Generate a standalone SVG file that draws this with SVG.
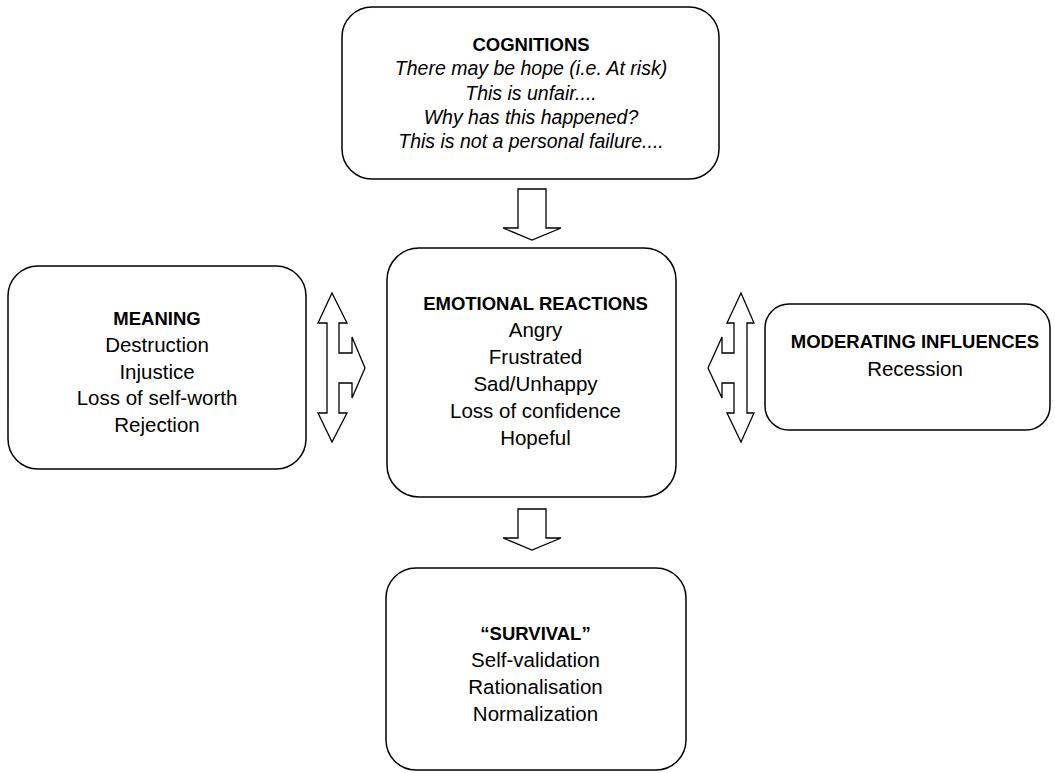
<svg xmlns="http://www.w3.org/2000/svg" width="1055" height="773" viewBox="0 0 1055 773">
<style>
.box{fill:#fff;stroke:#000;stroke-width:1.5}
.arr{fill:#fff;stroke:#000;stroke-width:1.3;stroke-linejoin:miter}
text{font-family:"Liberation Sans",Arial,sans-serif;font-size:20.5px;text-anchor:middle;fill:#000}
.b{font-weight:bold;font-size:18.5px}
.i{font-style:italic;font-size:19.5px}
</style>
<rect width="1055" height="773" fill="#fff"/>
<g id="cognitions">
<rect class="box" x="342" y="7" width="377" height="172" rx="30"/>
<text class="b" x="531" y="51">COGNITIONS</text>
<text class="i" x="531" y="75">There may be hope (i.e. At risk)</text>
<text class="i" x="531" y="99.5">This is unfair....</text>
<text class="i" x="531" y="124">Why has this happened?</text>
<text class="i" x="531" y="148">This is not a personal failure....</text>
</g>
<g id="emotional">
<rect class="box" x="387" y="248" width="289" height="249" rx="32"/>
<text class="b" x="535.5" y="310">EMOTIONAL REACTIONS</text>
<text x="535.5" y="337">Angry</text>
<text x="535.5" y="364">Frustrated</text>
<text x="535.5" y="391">Sad/Unhappy</text>
<text x="535.5" y="418">Loss of confidence</text>
<text x="535.5" y="445">Hopeful</text>
</g>
<g id="meaning">
<rect class="box" x="8" y="266" width="298" height="203" rx="30"/>
<text class="b" x="157" y="325">MEANING</text>
<text x="157" y="352">Destruction</text>
<text x="157" y="378.5">Injustice</text>
<text x="157" y="405">Loss of self-worth</text>
<text x="157" y="432">Rejection</text>
</g>
<g id="moderating">
<rect class="box" x="765" y="304" width="285" height="126" rx="24"/>
<text class="b" x="915" y="348">MODERATING INFLUENCES</text>
<text x="915" y="376">Recession</text>
</g>
<g id="survival">
<rect class="box" x="386" y="568" width="300" height="202" rx="30"/>
<text class="b" x="535.5" y="640">“SURVIVAL”</text>
<text x="535.5" y="667">Self-validation</text>
<text x="535.5" y="694">Rationalisation</text>
<text x="535.5" y="721">Normalization</text>
</g>
<g id="connectors">
<path class="arr" d="M518,189 H546 V228 H561 L532,240 L503,228 H518 Z"/>
<path class="arr" d="M518,509 H546 V538 H561 L532,550 L503,538 H518 Z"/>
<path class="arr" d="M332,293 L347,323 H339 V353 H352 V337 L365,368 L352,398 V383 H339 V413 H347 L332,442 L318,413 H327 V323 H318 Z"/>
<path class="arr" d="M741,293 L754,323 H747 V413 H754 L741,442 L727,413 H734 V383 H722 V398 L708,368 L722,337 V353 H734 V323 H727 Z"/>
</g>
</svg>
